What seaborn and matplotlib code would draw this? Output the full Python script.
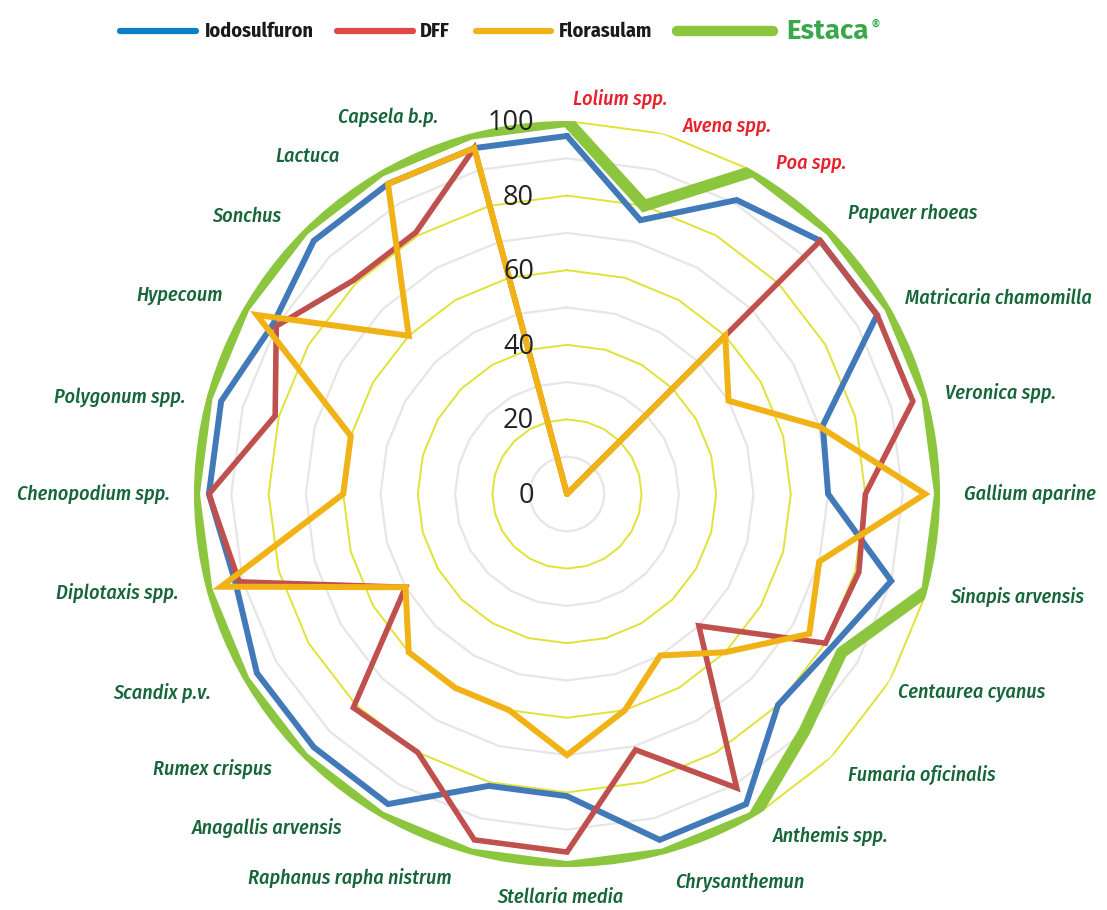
import numpy as np
import pandas as pd
import matplotlib
matplotlib.use("Agg")
import matplotlib.pyplot as plt
from matplotlib.lines import Line2D
from matplotlib import font_manager as fm
import seaborn as sns

categories = ["Lolium spp.", "Avena spp.", "Poa spp.", "Papaver rhoeas", "Matricaria chamomilla",
              "Veronica spp.", "Gallium aparine", "Sinapis arvensis", "Centaurea cyanus",
              "Fumaria oficinalis", "Anthemis spp.", "Chrysanthemun", "Stellaria media",
              "Raphanus rapha nistrum", "Anagallis arvensis", "Rumex crispus", "Scandix p.v.",
              "Diplotaxis spp.", "Chenopodium spp.", "Polygonum spp.", "Hypecoum", "Sonchus",
              "Lactuca", "Capsela b.p."]
red_labels = ["Lolium spp.", "Avena spp.", "Poa spp."]

iodosulfuron = [96, 76, 91, 96, 96, 71, 70, 90, 82, 80, 96, 96, 81, 81, 96, 96, 96, 92, 96, 96, 91, 96, 96, 96]
dff = [0, 0, 0, 96, 96, 96, 80, 81, 80, 50, 91, 71, 96, 96, 80, 81, 50, 91, 96, 81, 90, 81, 81, 96]
florasulam = [0, 0, 0, 60, 50, 70, 96, 70, 75, 60, 50, 60, 70, 60, 60, 60, 50, 96, 60, 60, 96, 60, 96, 96]
estaca = [100, 80, 100, 100, 100, 100, 100, 100, 85, 90, 100, 100, 100, 100, 100, 100, 100, 100, 100,
          100, 100, 100, 100, 100]
series_names = ["Iodosulfuron", "DFF", "Florasulam", "Estaca"]
tick_values = [0, 20, 40, 60, 80, 100]

# small pixel nudges for the hand-placed category labels (x right, y down)
label_nudge = {
    "Lolium spp.": (6, 2), "Avena spp.": (13, 16), "Poa spp.": (10, 13),
    "Matricaria chamomilla": (-6, 3), "Veronica spp.": (-6, 2), "Centaurea cyanus": (-13, 0),
    "Anthemis spp.": (7, -2), "Chrysanthemun": (5, 4), "Stellaria media": (-7, 6),
    "Raphanus rapha nistrum": (-13, 0), "Anagallis arvensis": (-26, -10),
    "Rumex crispus": (-14, -6), "Scandix p.v.": (-12, 0), "Diplotaxis spp.": (-5, -4),
    "Polygonum spp.": (2, 6), "Sonchus": (-5, 3), "Lactuca": (-29, 6), "Capsela b.p.": (-26, 7),
}

sns.set_theme(style="white")
plt.rcParams["font.family"] = ["DejaVu Sans"]

available = {f.name for f in fm.fontManager.ttflist}


def pick(cands):
    for c in cands:
        if c in available:
            return [c, "DejaVu Sans"]
    return ["DejaVu Sans"]


cond_font = pick(["Fira Sans Condensed", "Roboto Condensed", "IBM Plex Sans Condensed"])
tick_font = pick(["Open Sans", "Noto Sans"])
brand_font = pick(["Fira Sans", "Open Sans", "Liberation Sans"])

W, H = 1107, 910
fig = plt.figure(figsize=(W / 100, H / 100), dpi=100)
cx, cy, R = 567, 494, 373
ax = fig.add_axes([(cx - R) / W, (H - cy - R) / H, 2 * R / W, 2 * R / H], projection="polar")
ax.set_theta_zero_location("N")
ax.set_theta_direction(-1)
ax.set_ylim(0, 100)
ax.grid(False)
ax.set_xticks([])
ax.set_yticks([])
ax.spines["polar"].set_visible(False)
ax.set_facecolor("none")

n = len(categories)
theta = np.linspace(0, 2 * np.pi, n, endpoint=False)
theta_c = np.append(theta, 2 * np.pi)

# polygon grid
for lvl in range(10, 101, 10):
    col = "#e2e236" if lvl % 20 == 0 else "#e6e6e6"
    lw = 1.4 if lvl % 20 == 0 else 1.6
    ax.plot(theta_c, [lvl] * (n + 1), color=col, lw=lw, zorder=1)

rows = []
for name, vals in zip(series_names, [iodosulfuron, dff, florasulam, estaca]):
    v = list(vals) + [vals[0]]
    for t, val in zip(theta_c, v):
        rows.append({"series": name, "theta": t, "value": val})
df = pd.DataFrame(rows)

styles = {
    "Estaca": ("#8cc63f", 8.5, 2),
    "Iodosulfuron": ("#4279b9", 4.3, 3),
    "DFF": ("#c0504d", 4.0, 4),
    "Florasulam": ("#f0b214", 4.3, 5),
}
for name in ["Estaca", "Iodosulfuron", "DFF", "Florasulam"]:
    col, lw, z = styles[name]
    sub = df[df["series"] == name]
    sns.lineplot(data=sub, x="theta", y="value", sort=False, ax=ax, color=col,
                 linewidth=lw, legend=False, zorder=z, estimator=None)
    ax.lines[-1].set_solid_joinstyle("miter")
ax.set_xlabel("")
ax.set_ylabel("")
ax.set_ylim(0, 100)

for t, cat in zip(theta, categories):
    deg = np.degrees(t)
    if deg == 0 or 0 < deg < 180:
        ha = "left"
    elif deg == 180:
        ha = "center"
    else:
        ha = "right"
    col = "#e8212b" if cat in red_labels else "#17663a"
    dx, dy = label_nudge.get(cat, (0, 0))
    ax.annotate(cat, xy=(t, 106.5), xytext=(dx, -dy), textcoords="offset pixels",
                ha=ha, va="center", fontsize=14.5, style="italic", weight=500,
                color=col, family=cond_font, annotation_clip=False, zorder=10)

for v in tick_values:
    ax.annotate(str(v), xy=(0, v), xytext=(-33, -2), textcoords="offset pixels",
                ha="right", va="center", fontsize=19.5, color="#222222",
                family=tick_font, zorder=10)

# legend across the top
leg_y = 1 - 31 / H
legend_items = [
    ("Iodosulfuron", "#0a7ec8", 120, 196, 205, 4.5),
    ("DFF", "#e04848", 337, 413, 420, 4.5),
    ("Florasulam", "#f0b418", 476, 551, 559, 4.5),
]
for text, col, x0, x1, xt, lw in legend_items:
    fig.add_artist(Line2D([x0 / W, x1 / W], [leg_y, leg_y], color=col, lw=lw,
                          transform=fig.transFigure))
    fig.text(xt / W, leg_y, text, ha="left", va="center", fontsize=14.5, weight="bold",
             color="#1a1a1a", family=cond_font)
fig.add_artist(Line2D([677 / W, 773 / W], [leg_y, leg_y], color="#8cc63f", lw=7.5,
                      transform=fig.transFigure))
est = fig.text(786 / W, leg_y, "Estaca", ha="left", va="center", fontsize=20, weight="bold",
               color="#3aa84a", family=brand_font)
fig.canvas.draw()
bb = est.get_window_extent()
fig.text((bb.x1 + 2) / W, 1 - 24 / H, "®", ha="left", va="center", fontsize=7, weight="bold",
         color="#3aa84a")

fig.savefig("out.png", dpi=100, facecolor="white")
